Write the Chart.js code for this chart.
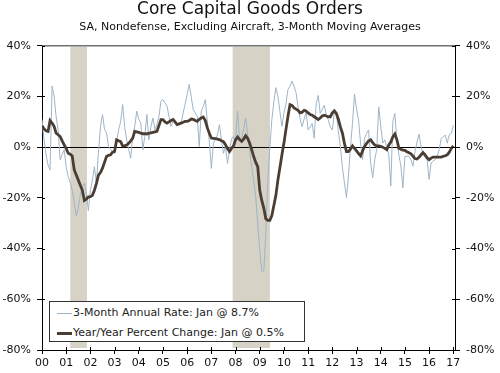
<!DOCTYPE html>
<html>
<head>
<meta charset="utf-8">
<script src="https://cdn.jsdelivr.net/npm/chart.js@4.4.0/dist/chart.umd.min.js"></script>
<style>
  html, body { margin: 0; padding: 0; background: #fff; }
  #wrap { position: relative; width: 500px; height: 373px; }
  #legend {
    position: absolute; left: 49px; top: 301px; width: 254px; height: 39px;
    border: 1px solid #333; background: #fff;
    font-family: "DejaVu Sans", Verdana, sans-serif; font-size: 11px; color: #222;
  }
  .item { position: absolute; left: 7px; height: 14px; line-height: 14px; white-space: nowrap; }
  .sw { display: inline-block; width: 15px; vertical-align: middle; margin-right: 1px; }
</style>
</head>
<body>
<div id="wrap">
  <canvas id="c" width="500" height="373"></canvas>
  <div id="legend">
    <div class="item" style="top:4px"><span class="sw" id="sw1" style="border-top:1px solid #9fb5c7;"></span><span id="lt1"></span></div>
    <div class="item" style="top:24px"><span class="sw" id="sw2" style="border-top:3px solid #4a3d33;"></span><span id="lt2"></span></div>
  </div>
</div>
<script>
// ---- data (monthly, starting Jan 2000) ----
const startYear = 2000;
const yearTicks = [0,1,2,3,4,5,6,7,8,9,10,11,12,13,14,15,16,17];
const yearLabels = ["00","01","02","03","04","05","06","07","08","09","10","11","12","13","14","15","16","17"];
const yTicks = [-80,-60,-40,-20,0,20,40];
const seriesNames = ["3-Month Annual Rate: Jan @ 8.7%", "Year/Year Percent Change: Jan @ 0.5%"];
const recessions = [[1.17, 1.86], [7.88, 9.42]];

const threeMonth = [
  10.9,2.9,-3,-7,-9,24.1,20.1,12,6.9,-5,-3,-1,
  -7.7,-11.7,-14,-17,-22,-27,-24,-19,-15.6,-14.3,-18,-25,
  -17,-13,-7.7,-14.3,-2,8,12.9,7,5.6,0.3,-1,-1.7,
  -2.4,2,6.9,10,16.8,8,2.9,-1,-4.4,4,8.2,14.2,
  11,9.5,-1,4.2,12.9,2.9,8,11.5,6.9,9,12.2,18.1,
  18.8,17.5,16.2,12,8.2,10.2,9.5,8.9,9.2,9.5,13.5,17,
  20.8,24.8,20,14.8,13.5,12.2,0.3,14.2,16,18.8,10.2,2,
  -8.4,1.6,3,4.9,8.9,3,-2.4,0.3,-6.4,-1,3.2,4.2,
  2.3,14.2,2.9,3.6,7,11.5,4.9,-1.1,-8,-13,-19.6,-30,
  -40.8,-48.8,-48.8,-34,-13,0,10.9,18,23.5,20.1,14,8.2,
  13.5,17,22.8,24,26.1,24,21.5,16,11.3,8.1,11,13.9,
  6.8,8,9.4,3.5,17.2,20.4,13.3,15,16.5,12.6,10.7,8,
  6.8,13.9,13.3,6,0.3,-8,-14,-19.9,-11.4,0,9.4,21,
  15,10.7,1.6,-4.9,3.5,5.5,6.8,-6.2,-12.1,-5,-1,15.9,
  8.5,1.6,2.9,0,-3,-15.3,10,13.3,2.9,-3,-7.5,-16,
  -3.6,-3.6,-3.6,-5,-7.5,-1.7,2,5.2,0.3,-3,-4,-4.9,
  -12.7,-6.2,-5.5,-4.9,-3.6,-1,3.5,4,4.8,1.6,5,5.5,
  8.7
];

const yearOverYear = [
  8.5,7.2,6.5,6.2,10.5,9.5,8.2,5.5,4.9,4.2,2.5,0.9,
  -0.5,-2.4,-2.8,-3.5,-9,-11,-13,-15,-17,-21,-20.5,-19.6,
  -19.5,-19,-17,-14.3,-11,-10,-8.3,-6,-3.7,-3.2,-3,-2,
  -1.7,2.9,2.5,2.2,0.5,0.5,0.8,1.5,2.5,3.6,6.2,6.0,
  5.8,5.5,5.3,5.3,5.2,5.5,5.6,5.8,6.0,6.2,8.5,10.9,
  10.9,10,9.5,10,10.5,10.9,10,8.9,9.2,9.5,9.8,10.2,
  10.2,10.5,11.1,11.0,10.5,10.2,11.0,11.5,11.9,10.5,7.6,5.5,
  3.6,3.5,3.4,3.2,3.0,2.5,2.2,1.0,-0.5,-1.7,-0.5,0.5,
  2.9,4.0,3.0,2.3,3.2,4.5,3.5,1.6,-1,-3.7,-6,-7.7,
  -17,-21,-24,-28.2,-28.9,-28.9,-27,-23,-19,-13,-8,-3,
  1.6,7,12.2,16.8,16.5,15.5,15,14.5,13.5,13.8,14.5,14.3,
  13.5,12.9,12.6,12,11.5,10.9,11.5,12.3,12.6,12.3,12,12.0,
  13.5,14.3,13.3,11,8,5.5,1.5,-1.7,-1.7,-0.8,0.5,-0.5,
  -1.5,-2.5,-3.4,-1.5,0.3,1.5,2.5,2.9,1.8,0.9,0.5,0.5,
  0.3,0,-0.5,-1,0.9,2,4,5.2,3,-0.4,-0.8,-1.2,
  -1.3,-1.8,-2.2,-2.6,-3.5,-4.5,-4.7,-4,-3,-2.1,-3,-4.2,
  -4.9,-4.3,-3.9,-3.9,-3.9,-3.9,-3.9,-3.6,-3.4,-3,-2,-0.5,
  0.5
];

// ---- build ----
const FONT = '"DejaVu Sans", Verdana, sans-serif';
const toPts = arr => arr.map((v, i) => ({ x: i / 12, y: v }));

document.getElementById('lt1').textContent = seriesNames[0];
document.getElementById('lt2').textContent = seriesNames[1];

const recessionPlugin = {
  id: 'recessions',
  beforeDraw(chart) {
    const { ctx, chartArea, scales } = chart;
    ctx.save();
    ctx.fillStyle = '#d6d2c5';
    recessions.forEach(([a, b]) => {
      const x1 = scales.x.getPixelForValue(a);
      const x2 = scales.x.getPixelForValue(b);
      ctx.fillRect(x1, chartArea.top + 1, x2 - x1, chartArea.bottom - chartArea.top - 3);
    });
    ctx.restore();
  }
};

const frameAndTicks = {
  id: 'frameAndTicks',
  afterDraw(chart) {
    const { ctx, chartArea, scales } = chart;
    ctx.save();
    // top border (gray)
    ctx.strokeStyle = '#707070';
    ctx.lineWidth = 1.5;
    ctx.beginPath();
    const yt = scales.y.getPixelForValue(yTicks[yTicks.length - 1]);
    ctx.moveTo(chartArea.left, yt); ctx.lineTo(chartArea.right, yt);
    ctx.stroke();
    // inner half of tick marks
    ctx.strokeStyle = '#000';
    ctx.lineWidth = 1;
    ctx.beginPath();
    yTicks.forEach(v => {
      const y = Math.round(scales.y.getPixelForValue(v)) + 0.5;
      ctx.moveTo(chartArea.left, y); ctx.lineTo(chartArea.left + 3, y);
      ctx.moveTo(chartArea.right - 3, y); ctx.lineTo(chartArea.right, y);
    });
    yearTicks.forEach(v => {
      const x = Math.round(scales.x.getPixelForValue(v)) + 0.5;
      ctx.moveTo(x, chartArea.bottom); ctx.lineTo(x, chartArea.bottom - 3);
    });
    ctx.stroke();
    ctx.restore();
  }
};

const yTickCfg = {
  font: { family: FONT, size: 11 },
  color: '#111',
  padding: 6,
  callback: v => v + '%'
};

new Chart(document.getElementById('c'), {
  type: 'line',
  data: {
    datasets: [
      {
        label: seriesNames[1],
        data: toPts(yearOverYear),
        borderColor: '#4a3d33',
        borderWidth: 2.8,
        pointRadius: 0,
        tension: 0,
        order: 0
      },
      {
        label: seriesNames[0],
        data: toPts(threeMonth),
        borderColor: '#9fb5c7',
        borderWidth: 1,
        pointRadius: 0,
        tension: 0,
        order: 1
      }
    ]
  },
  options: {
    responsive: false,
    animation: false,
    layout: { padding: { left: 0, right: 0, top: 0, bottom: 0 } },
    plugins: {
      legend: { display: false },
      tooltip: { enabled: false },
      title: {
        display: true,
        text: 'Core Capital Goods Orders',
        color: '#111',
        font: { family: FONT, size: 17, weight: 'normal', lineHeight: 1.15 },
        padding: { top: 0, bottom: 0 }
      },
      subtitle: {
        display: true,
        text: 'SA, Nondefense, Excluding Aircraft, 3-Month Moving Averages',
        color: '#111',
        font: { family: FONT, size: 11, weight: 'normal', lineHeight: 1.2 },
        padding: { top: 1, bottom: 12 }
      }
    },
    scales: {
      x: {
        type: 'linear',
        min: 0,
        max: 17.07,
        afterBuildTicks: s => { s.ticks = yearTicks.map(v => ({ value: v })); },
        afterFit: s => { s.height = 23; },
        ticks: {
          font: { family: FONT, size: 11 },
          color: '#111',
          padding: 3,
          maxRotation: 0,
          autoSkip: false,
          callback: (v) => yearLabels[yearTicks.indexOf(v)] ?? ''
        },
        grid: { drawOnChartArea: false, tickLength: 4, tickColor: '#000' },
        border: { color: '#000', width: 1 }
      },
      y: {
        position: 'left',
        min: -80,
        max: 40,
        afterBuildTicks: s => { s.ticks = yTicks.map(v => ({ value: v })); },
        afterFit: s => { s.width = 42; },
        ticks: yTickCfg,
        grid: {
          tickLength: 5,
          tickColor: '#000',
          color: c => (c.tick && c.tick.value === 0) ? '#000' : 'rgba(0,0,0,0)'
        },
        border: { color: '#000', width: 1 }
      },
      y2: {
        position: 'right',
        min: -80,
        max: 40,
        afterBuildTicks: s => { s.ticks = yTicks.map(v => ({ value: v })); },
        afterFit: s => { s.width = 45; },
        ticks: yTickCfg,
        grid: { drawOnChartArea: false, tickLength: 5, tickColor: '#000' },
        border: { color: '#000', width: 1 }
      }
    }
  },
  plugins: [recessionPlugin, frameAndTicks]
});
</script>
</body>
</html>
